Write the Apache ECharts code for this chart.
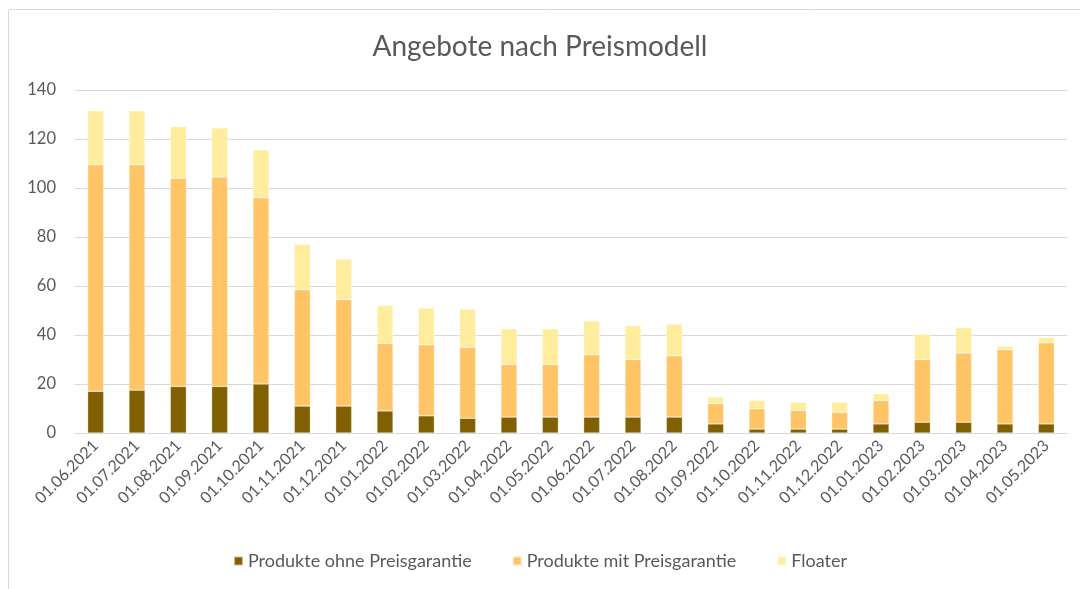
<!DOCTYPE html>
<html>
<head>
<meta charset="utf-8">
<script src="https://cdn.jsdelivr.net/npm/echarts@6/dist/echarts.min.js"></script>
<style>
  html, body { margin: 0; padding: 0; background: #fff; }
  #chart { width: 1080px; height: 589px; }
</style>
</head>
<body>
<div id="chart"></div>
<script>
var months = ['01.06.2021', '01.07.2021', '01.08.2021', '01.09.2021', '01.10.2021', '01.11.2021',
    '01.12.2021', '01.01.2022', '01.02.2022', '01.03.2022', '01.04.2022', '01.05.2022',
    '01.06.2022', '01.07.2022', '01.08.2022', '01.09.2022', '01.10.2022', '01.11.2022',
    '01.12.2022', '01.01.2023', '01.02.2023', '01.03.2023', '01.04.2023', '01.05.2023'];

var ohneGarantie = [17, 17.5, 19, 19, 20, 11, 11, 9, 7, 6, 6.5, 6.5,
    6.5, 6.5, 6.5, 3.7, 1.6, 1.6, 1.6, 3.7, 4.4, 4.4, 3.7, 3.7];
var mitGarantie = [92.5, 92, 85, 85.5, 76, 47.5, 43.5, 27.5, 29, 29, 21.5, 21.5,
    25.5, 23.5, 25, 8.3, 8.3, 7.6, 6.9, 9.6, 25.6, 28.3, 30.3, 33.1];
var floater = [22, 22, 21, 20, 19.5, 18.5, 16.5, 15.5, 15, 15.5, 14.5, 14.5,
    13.7, 13.8, 13, 2.7, 3.4, 3.4, 4.1, 2.7, 10.3, 10.3, 1.4, 2.1];

var yTicks = [0, 20, 40, 60, 80, 100, 120, 140];

var textColor = '#595959';
var fontName = 'Lato, "Open Sans", sans-serif';

var chart = echarts.init(document.getElementById('chart'));

function barSeries(name, data, color) {
    return {
        name: name,
        type: 'bar',
        stack: 'total',
        barWidth: 16,
        data: data,
        itemStyle: { color: color, borderColor: 'rgba(255,255,255,0.6)', borderWidth: 0.5 },
        emphasis: { disabled: true }
    };
}

chart.setOption({
    animation: false,
    textStyle: { fontFamily: fontName },
    title: {
        text: 'Angebote nach Preismodell',
        left: 'center',
        top: 28,
        textStyle: { fontSize: 28, fontWeight: 'normal', color: textColor, fontFamily: fontName }
    },
    graphic: [
        { type: 'line', shape: { x1: 8.5, y1: 9.5, x2: 1080, y2: 9.5 }, style: { stroke: '#d9d9d9', lineWidth: 1 } },
        { type: 'line', shape: { x1: 8.5, y1: 9.5, x2: 8.5, y2: 589 }, style: { stroke: '#d9d9d9', lineWidth: 1 } }
    ],
    legend: {
        bottom: 14,
        left: 'center',
        itemWidth: 9,
        itemHeight: 9,
        itemGap: 40,
        icon: 'rect',
        textStyle: { fontSize: 18, color: textColor, fontFamily: fontName }
    },
    grid: { left: 75, right: 13, top: 90, bottom: 156 },
    xAxis: {
        type: 'category',
        data: months,
        axisTick: { show: false },
        axisLine: { lineStyle: { color: '#d9d9d9' } },
        axisLabel: { rotate: 45, fontSize: 16, color: textColor, margin: 10, interval: 0 }
    },
    yAxis: {
        type: 'value',
        min: yTicks[0],
        max: yTicks[yTicks.length - 1],
        interval: 20,
        axisLine: { show: false },
        axisTick: { show: false },
        splitLine: { lineStyle: { color: '#d9d9d9' } },
        axisLabel: { fontSize: 16.5, color: textColor, margin: 19 }
    },
    series: [
        barSeries('Produkte ohne Preisgarantie', ohneGarantie, '#806000'),
        barSeries('Produkte mit Preisgarantie', mitGarantie, '#FFC466'),
        barSeries('Floater', floater, '#FFEC9C')
    ]
});
</script>
</body>
</html>
